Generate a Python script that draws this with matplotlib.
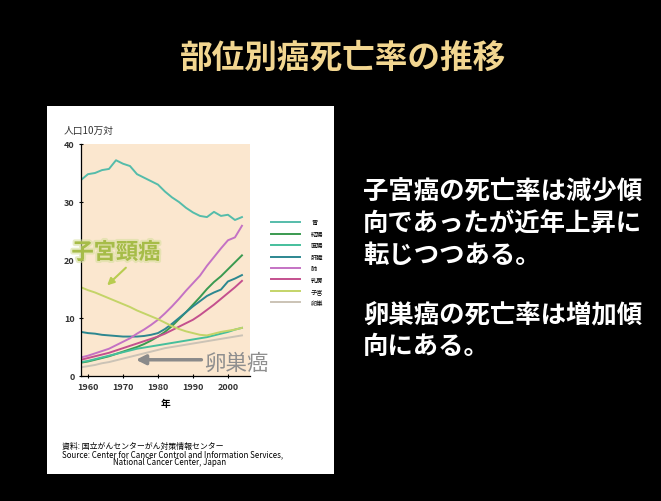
import matplotlib
matplotlib.use("Agg")
import matplotlib.pyplot as plt
import matplotlib.patheffects as pe
from matplotlib.patches import Rectangle

plt.rcParams['font.family'] = ['Noto Sans CJK JP', 'DejaVu Sans']

W, H = 661, 502

years = list(range(1958, 2005, 2))
stomach = [33.8, 34.8, 35.0, 35.5, 35.7, 37.2, 36.6, 36.2, 34.8, 34.2, 33.6, 33.0,
           31.8, 30.8, 30.0, 29.0, 28.2, 27.6, 27.4, 28.3, 27.6, 27.8, 26.9, 27.4]
colon = [2.3, 2.5, 2.8, 3.1, 3.4, 3.8, 4.2, 4.6, 5.0, 5.5, 6.1, 6.8,
         7.6, 8.6, 9.8, 11.0, 12.3, 13.6, 15.0, 16.2, 17.2, 18.4, 19.6, 20.8]
rectum = [2.4, 2.6, 2.9, 3.2, 3.5, 3.8, 4.1, 4.4, 4.7, 4.9, 5.1, 5.3,
          5.5, 5.7, 5.9, 6.1, 6.3, 6.5, 6.7, 7.0, 7.3, 7.6, 8.0, 8.3]
liver = [7.6, 7.4, 7.3, 7.1, 7.0, 6.9, 6.8, 6.8, 6.8, 6.9, 7.1, 7.4,
         8.1, 9.0, 10.0, 11.0, 12.0, 12.9, 13.8, 14.4, 14.9, 16.3, 16.8, 17.4]
lung = [3.2, 3.5, 3.9, 4.3, 4.7, 5.3, 5.9, 6.5, 7.3, 8.0, 8.8, 9.7,
        10.8, 12.0, 13.3, 14.7, 16.0, 17.3, 19.0, 20.5, 22.0, 23.4, 23.9, 25.9]
breast = [2.8, 3.1, 3.4, 3.7, 4.0, 4.4, 4.8, 5.2, 5.6, 6.0, 6.4, 6.8,
          7.3, 7.9, 8.5, 9.1, 9.7, 10.5, 11.4, 12.3, 13.3, 14.3, 15.3, 16.4]
uterus = [15.3, 14.8, 14.4, 13.9, 13.4, 12.9, 12.4, 11.9, 11.3, 10.8, 10.3, 9.8,
          9.2, 8.6, 8.1, 7.7, 7.4, 7.1, 7.0, 7.3, 7.6, 7.8, 8.0, 8.3]
ovary = [1.5, 1.7, 1.9, 2.2, 2.4, 2.7, 3.0, 3.3, 3.6, 3.9, 4.2, 4.5,
         4.8, 5.0, 5.2, 5.4, 5.6, 5.8, 6.0, 6.2, 6.4, 6.6, 6.8, 7.0]

labels = ["胃", "結腸", "直腸", "肝臓", "肺", "乳房", "子宮", "卵巣"]
series = [stomach, colon, rectum, liver, lung, breast, uterus, ovary]
colors = ["#55bcaa", "#3a9a50", "#45bf9c", "#2c8790", "#c472c4", "#c4508e", "#c4d468", "#cbc3b6"]

title = "部位別癌死亡率の推移"
para1 = "子宮癌の死亡率は減少傾\n向であったが近年上昇に\n転じつつある。"
para2 = "卵巣癌の死亡率は増加傾\n向にある。"
source = ["資料: 国立がんセンターがん対策情報センター",
          "Source: Center for Cancer Control and Information Services,",
          "National Cancer Center, Japan"]


def fx(x):
    return x / W


def fy(y):
    return 1 - y / H


fig = plt.figure(figsize=(W / 100, H / 100), dpi=100, facecolor="black")

# white panel behind the chart
fig.patches.append(Rectangle((fx(47), fy(475)), fx(334) - fx(47), fy(107) - fy(475),
                             transform=fig.transFigure, facecolor="white", edgecolor="none", zorder=-5))

fig.text(fx(343), fy(58), title, color="#f2d690", fontsize=23.5, fontweight="bold",
         ha="center", va="center")
fig.text(fx(363), fy(179), para1, color="white", fontsize=18.3, fontweight="bold",
         ha="left", va="top", linespacing=1.22)
fig.text(fx(363), fy(301), para2, color="white", fontsize=18.3, fontweight="bold",
         ha="left", va="top", linespacing=1.22)

ax = fig.add_axes([fx(81), fy(377), fx(250) - fx(81), fy(145) - fy(377)])
ax.set_facecolor("#fbe7cf")
for lab, vals, c in zip(labels, series, colors):
    ax.plot(years, vals, color=c, lw=1.4, label=lab)

ax.set_xlim(1958, 2006.3)
ax.set_ylim(0, 40)
ax.set_xticks([1960, 1970, 1980, 1990, 2000])
ax.set_yticks([0, 10, 20, 30, 40])
ax.tick_params(labelsize=6.5, direction="inout", length=3, width=0.8, pad=3)
for t in ax.get_xticklabels() + ax.get_yticklabels():
    t.set_fontweight("bold")
    t.set_color("#333333")
for s in ["top", "right"]:
    ax.spines[s].set_visible(False)
ax.spines["left"].set_linewidth(0.9)
ax.spines["bottom"].set_linewidth(0.9)
ax.set_xlabel("年", fontsize=7, fontweight="bold", labelpad=5)

fig.text(fx(64), fy(131), "人口10万対", fontsize=7, ha="left", va="center", color="#333333")

ax.legend(loc="upper left", bbox_to_anchor=(1.11, 0.69), frameon=False, fontsize=4.5,
          handlelength=4.6, handletextpad=1.8, labelspacing=0.55, borderaxespad=0)

glow = [pe.withStroke(linewidth=3, foreground="#d8e0a0", alpha=0.6)]
ax.text(1968, 21.3, "子宮頸癌", color="#a6bc48", fontsize=16, fontweight="bold",
        ha="center", va="center", clip_on=False, path_effects=glow)
ax.annotate("", xy=(1964.9, 15.3), xytext=(1971.4, 19.0),
            arrowprops=dict(arrowstyle="-|>", color="#b8cc50", lw=1.5, mutation_scale=10))

ax.text(2002.4, 2.3, "卵巣癌", color="#8f8f8f", fontsize=15.5, ha="center", va="center",
        clip_on=False)
ax.annotate("", xy=(1972.9, 2.8), xytext=(1993.2, 2.8),
            arrowprops=dict(arrowstyle="-|>", color="#8a8a8a", lw=2.5, mutation_scale=14))

fig.text(fx(62), fy(446), source[0], fontsize=5.7, ha="left", va="center")
fig.text(fx(62), fy(454.5), source[1], fontsize=5.7, ha="left", va="center")
fig.text(fx(170), fy(463), source[2], fontsize=5.7, ha="center", va="center")

fig.savefig("out.png", dpi=100, facecolor="black")
